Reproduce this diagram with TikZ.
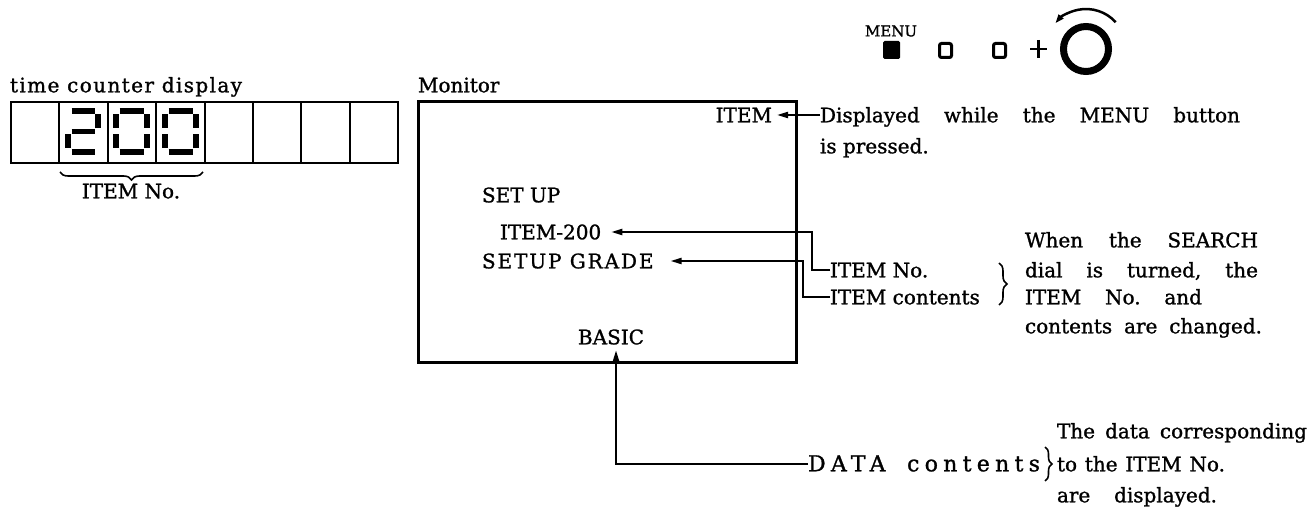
\documentclass[tikz,border=0pt]{standalone}
\usepackage{fontspec}
\setmainfont{DejaVu Serif}[FakeBold=1.2]
\usetikzlibrary{arrows.meta,decorations.pathreplacing,calc}
\newcommand{\jl}[2]{\makebox[#1pt][s]{#2}}
\frenchspacing
\begin{document}
\frenchspacing
\begin{tikzpicture}[x=1pt,y=-1pt,
  txt/.style={inner sep=0pt, outer sep=0pt, text height=14.6pt, text depth=0pt,
              font=\fontsize{20}{24}\selectfont\frenchspacing, anchor=west},
  arr/.style={line width=2pt, -{Triangle[length=11pt,width=6pt]}},
  brc/.style={line width=1.6pt, decorate, decoration={brace, amplitude=#1}},
  seg/.style={line width=5.5pt},
  frame/.style={line width=#1},
  pics/dzero/.style={code={
    \draw[seg] (3.5,0)--(27.5,0); \draw[seg] (31,3.5)--(31,17.5);
    \draw[seg] (31,23.5)--(31,37.5); \draw[seg] (3.5,41)--(27.5,41);
    \draw[seg] (0,23.5)--(0,37.5); \draw[seg] (0,3.5)--(0,17.5);}},
  pics/dtwo/.style={code={
    \draw[seg] (3.5,0)--(26.5,0); \draw[seg] (30,3.5)--(30,17.5);
    \draw[seg] (3.5,20.5)--(26.5,20.5); \draw[seg] (0,23.5)--(0,37.5);
    \draw[seg] (3.5,41)--(26.5,41);}}
]
\useasboundingbox (0,0) rectangle (1310,518);

% ---- time counter display ----
\node[txt] (tcd) at (10,85) {\addfontfeatures{LetterSpace=7}time counter display};
\draw[frame=2.5pt] (11,102) rectangle (398,163);
\foreach \k in {1,...,7} \draw[frame=2pt] ({11+48.375*\k},102) -- ({11+48.375*\k},163);
\pic at (68,111) {dtwo};
\pic at (116,111) {dzero};
\pic at (165,111) {dzero};
\draw[brc=8pt] (203,172) -- (60,172);
\node[txt, anchor=center] (cno) at (131,191) {ITEM No.};

% ---- monitor ----
\node[txt] (mon) at (418,85) {Monitor};
\draw[frame=3pt] (418,102) rectangle (796,363);
\node[txt, anchor=east] (item) at (772,115) {ITEM};
\node[txt] (setup) at (482,195) {SET UP};
\node[txt] (i200) at (500,232) {ITEM-200};
\node[txt] (grade) at (482,261) {\addfontfeatures{LetterSpace=9.5}SETUP GRADE};
\node[txt] (basic) at (578,337) {BASIC};

% ---- labels on the right ----
\node[txt] (disp) at (820,115) {\jl{420}{Displayed while the MENU button}};
\node[txt] (press) at (820,146) {is pressed.};
\node[txt] (lno) at (830,270) {ITEM No.};
\node[txt] (lcont) at (830,297) {ITEM contents};
\draw[brc=8pt] (999,263) -- (999,305);
\node[txt] (s1) at (1025,240) {\jl{233}{When the SEARCH}};
\node[txt] (s2) at (1025,270) {\jl{233}{dial is turned, the}};
\node[txt] (s3) at (1025,297) {\jl{177}{ITEM No. and}};
\node[txt] (s4) at (1025,326) {\jl{237}{contents are changed.}};

\node[txt, font=\fontsize{22}{26}\selectfont] (dlab) at (808,464)
  {\addfontfeatures{LetterSpace=24}\jl{232}{DATA contents}};
\draw[brc=7pt] (1045,447) -- (1045,481);
\node[txt] (d1) at (1057,431) {\jl{250}{The data corresponding}};
\node[txt] (d2) at (1057,464) {\jl{168}{to the ITEM No.}};
\node[txt] (d3) at (1057,495) {\jl{160}{are displayed.}};

% ---- connectors ----
\draw[arr] (disp.west) -- ($(item.east)+(5,0)$);
\draw[arr] (lno.west) -- ++(-18,0) |- ($(i200.east)+(10,0)$);
\draw[arr] (lcont.west) -- ++(-27,0) |- ($(grade.east)+(17,0)$);
\draw[arr] (dlab.west) -- ++(-4,0) -| ($(basic.south)+(5,6)$);

% ---- buttons and dial ----
\node[inner sep=0pt, font=\fontsize{15}{18}\selectfont] (menu) at (891,31) {MENU};
\fill[rounded corners=1.5pt] (883,41) rectangle (900,59);
\draw[line width=3pt, rounded corners=2pt] (939.5,43.5) rectangle (951.5,57.5);
\draw[line width=3pt, rounded corners=2pt] (993.5,43.5) rectangle (1005.5,57.5);
\draw[line width=2.5pt] (1030,49) -- (1047,49) (1038.5,40) -- (1038.5,58);
\draw[line width=7pt] (1086,49) circle[radius=22.5];
\draw[line width=2.5pt, -{Triangle[length=9pt,width=6pt]}]
  ($(1086,49)+(-42:40)$) arc[start angle=-42, end angle=-140, radius=40];
\end{tikzpicture}
\end{document}
